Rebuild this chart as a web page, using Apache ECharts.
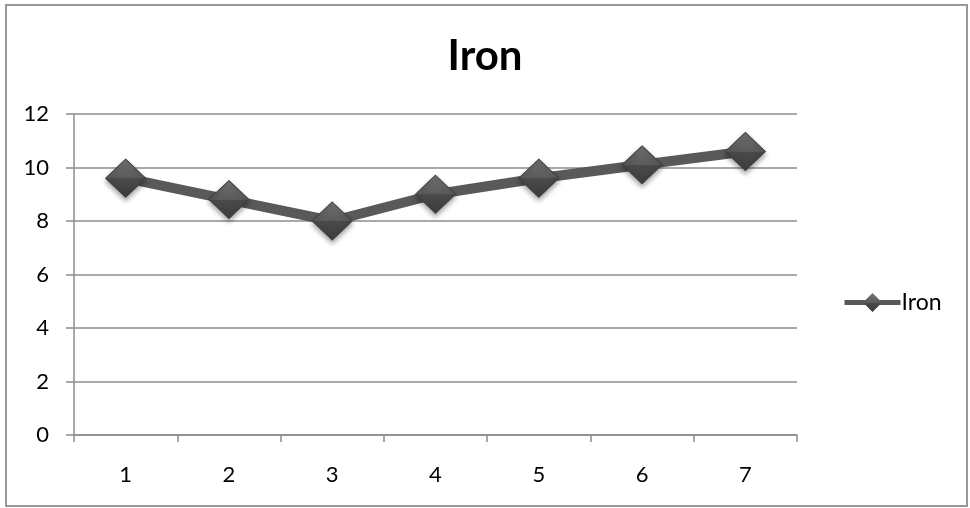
<!DOCTYPE html>
<html>
<head>
<meta charset="utf-8">
<style>
  html, body { margin: 0; padding: 0; background: #fff; }
  #chart { width: 970px; height: 508px; }
</style>
<script src="https://cdn.jsdelivr.net/npm/echarts@6/dist/echarts.min.js"></script>
</head>
<body>
<div id="chart"></div>
<script>
// Iron readings per sample
const categories = ['1', '2', '3', '4', '5', '6', '7'];
const ironValues = [9.6, 8.8, 8.0, 9.0, 9.6, 10.1, 10.6];
const seriesName = 'Iron';
const yTicks = { min: 0, max: 12, interval: 2 };

const font = 'Lato, "Liberation Sans", Arial, sans-serif';
const axisGray = '#8c8c8c';

const chart = echarts.init(document.getElementById('chart'), null, { renderer: 'canvas' });

const markerFill = new echarts.graphic.LinearGradient(0, 0, 0, 1, [
  { offset: 0, color: '#747474' },
  { offset: 0.5, color: '#5a5a5a' },
  { offset: 0.51, color: '#4a4a4a' },
  { offset: 1, color: '#3c3c3c' }
]);

chart.setOption({
  animation: false,
  backgroundColor: '#ffffff',
  graphic: [{
    type: 'rect',
    shape: { x: 6, y: 5, width: 961, height: 501 },
    style: { fill: 'none', stroke: '#999999', lineWidth: 2 },
    silent: true
  }],
  title: {
    text: seriesName,
    left: 'center',
    top: 30,
    textStyle: { fontFamily: font, fontSize: 42, fontWeight: 'bold', color: '#000' }
  },
  legend: {
    data: [seriesName],
    orient: 'vertical',
    left: 837,
    top: 286,
    itemWidth: 56,
    itemHeight: 24,
    itemGap: 4,
    lineStyle: { width: 5, color: '#595959' },
    itemStyle: { borderWidth: 0, shadowBlur: 0, shadowOffsetY: 0 },
    textStyle: { fontFamily: font, fontSize: 23, color: '#000', padding: [0, 0, 0, -4] }
  },
  grid: { left: 74, right: 173, top: 114, bottom: 73, containLabel: false },
  xAxis: {
    type: 'category',
    data: categories,
    boundaryGap: true,
    axisLine: { show: true, lineStyle: { color: axisGray, width: 1.5 } },
    axisTick: { show: true, length: 7, interval: 0, lineStyle: { color: axisGray, width: 1.5 } },
    axisLabel: { fontFamily: font, fontSize: 22, color: '#000', margin: 29, interval: 0 },
    splitLine: { show: false }
  },
  yAxis: {
    type: 'value',
    min: yTicks.min,
    max: yTicks.max,
    interval: yTicks.interval,
    axisLine: { show: true, lineStyle: { color: axisGray, width: 1.5 } },
    axisTick: { show: true, length: 8, lineStyle: { color: axisGray, width: 1.5 } },
    axisLabel: { fontFamily: font, fontSize: 22, color: '#000', margin: 25 },
    splitLine: { show: true, lineStyle: { color: axisGray, width: 1.5 } }
  },
  series: [{
    name: seriesName,
    type: 'line',
    data: ironValues,
    symbol: 'diamond',
    symbolSize: [40, 38],
    lineStyle: { color: '#595959', width: 10 },
    itemStyle: {
      color: markerFill,
      borderColor: '#404040',
      borderWidth: 1,
      shadowColor: 'rgba(0,0,0,0.35)',
      shadowBlur: 5,
      shadowOffsetY: 3
    },
    emphasis: { disabled: true }
  }]
});
</script>
</body>
</html>
